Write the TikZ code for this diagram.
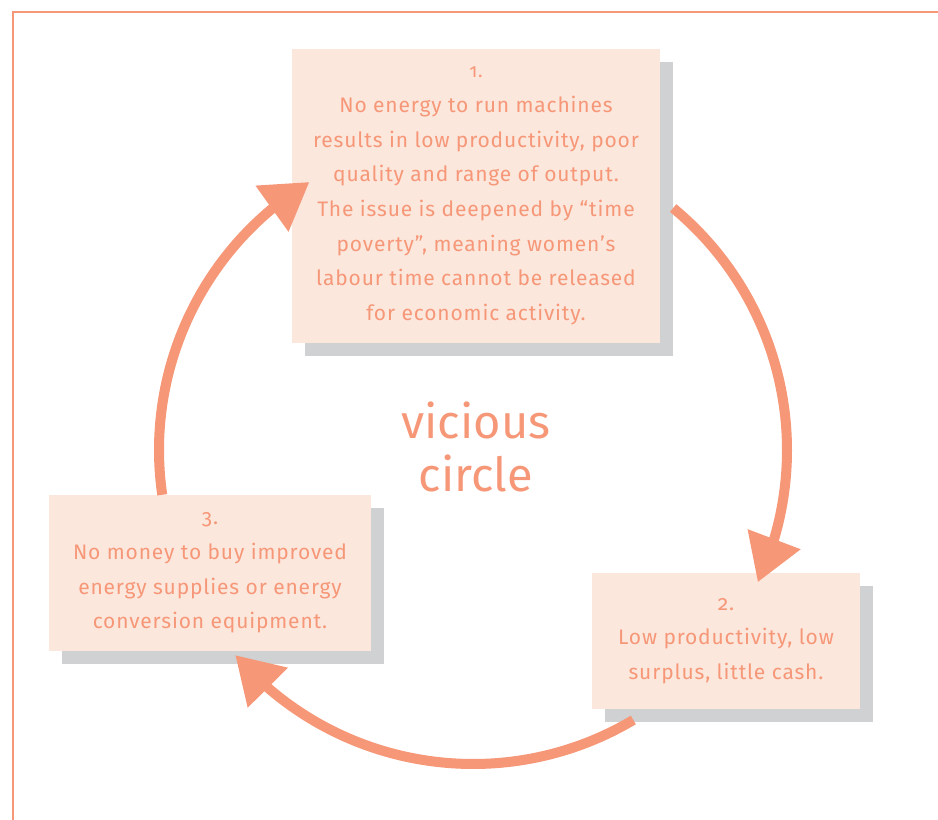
\documentclass[tikz,border=0pt]{standalone}
\usepackage{fontspec}
\newfontfamily\cyclefont{Fira Sans}[Numbers=OldStyle, LetterSpace=4]
\newfontfamily\titlefont{Fira Sans}
\usetikzlibrary{positioning, arrows.meta, bending, shadows}
\definecolor{salmon}{HTML}{F69778}
\definecolor{boxfill}{HTML}{FCE7DD}
\definecolor{boxshade}{HTML}{D0D1D3}
\tikzset{
  cyclebox/.style={rectangle, fill=boxfill, text=salmon, align=center, inner sep=0pt,
    drop shadow={shadow xshift=13pt, shadow yshift=-13pt, fill=boxshade, opacity=1}},
  cyclearc/.style={draw=salmon, line width=10pt, -{Triangle[length=46pt, width=54pt]}},
}
\begin{document}
\begin{tikzpicture}[x=1pt, y=1pt, font=\cyclefont\fontsize{21}{34.7}\selectfont]
  \useasboundingbox (0,0) rectangle (938,820);
  \draw[salmon, line width=1.2pt] (13,0) |- (938,808);
  \coordinate (hub) at (473,370);
  \node[cyclebox, minimum width=368pt, minimum height=294pt] (poverty) at (476,624)
    {{\fontsize{19}{34.7}\selectfont 1.}\\No energy to run machines\\results in low productivity, poor\\
     quality and range of output.\\The issue is deepened by “time\\poverty”, meaning women’s\\
     labour time cannot be released\\for economic activity.};
  \node[cyclebox, minimum width=268pt, minimum height=136pt] (cash) at (726,179)
    {2.\\Low productivity, low\\surplus, little cash.};
  \node[cyclebox, minimum width=322pt, minimum height=156pt] (money) at (210,247)
    {3.\\No money to buy improved\\energy supplies or energy\\conversion equipment.};
  \node[text=salmon, align=center, font=\titlefont\fontsize{47}{53}\selectfont] (label) at (476,373)
    {vicious\\circle};
  % arcs: 1 to 2, 2 to 3, 3 to 1
  \foreach \sa/\ea in {50.4/-24.9, -59.3/-139.2, 188.2/121.4}
    \draw[cyclearc] ([shift={(\sa:314)}]hub) arc[start angle=\sa, end angle=\ea, radius=314];
\end{tikzpicture}
\end{document}
